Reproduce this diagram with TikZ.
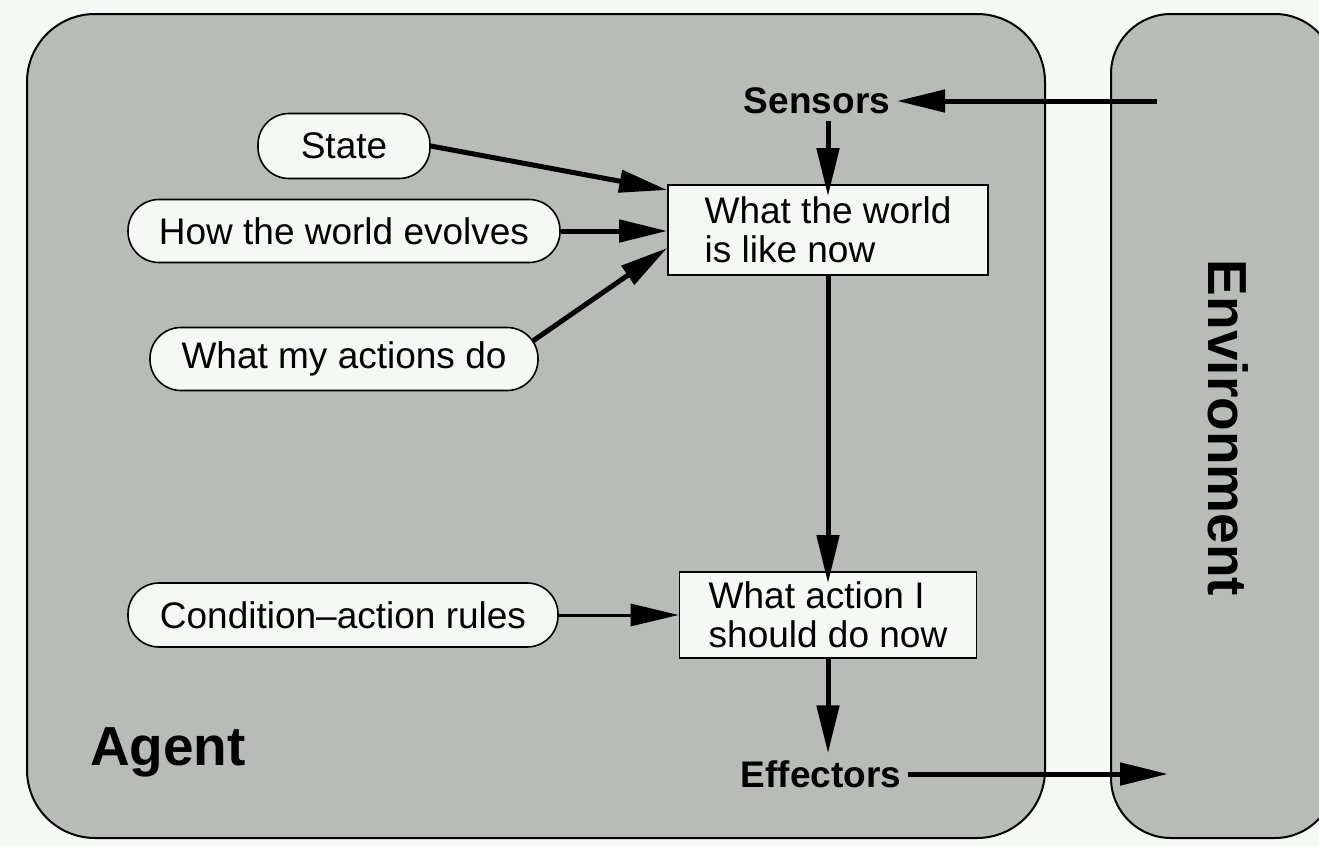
\documentclass[tikz,border=0pt]{standalone}
\usepackage{fontspec}
\setmainfont{Liberation Sans}
\usetikzlibrary{arrows.meta}
\definecolor{agentgray}{HTML}{B8BCB8}
\definecolor{paper}{HTML}{F5F9F6}

\begin{document}
\begin{tikzpicture}[x=0.5pt,y=-0.5pt,
  >={Triangle[length=24pt,width=11pt]},
  every node/.style={font=\fontsize{18.5}{19.5}\selectfont},
  box/.style={draw,fill=paper,line width=0.8pt,align=left,inner sep=0pt},
  oval/.style={draw,fill=paper,line width=0.8pt,rounded corners=15.5pt,
    minimum height=31.5pt,inner sep=0pt},
  port/.style={font=\fontsize{18.5}{19.5}\selectfont\bfseries},
  bigtext/.style={font=\fontsize{27.5}{30}\selectfont\bfseries}]
\useasboundingbox (0,0) rectangle (1319,846);
\fill[paper] (0,0) rectangle (1319,846);
% agent and environment
\draw[fill=agentgray,line width=1pt,rounded corners=34pt] (27,14) rectangle (1045,838);
\begin{scope}
\clip (0,0) rectangle (1319,846);
\draw[fill=agentgray,line width=1pt,rounded corners=30pt] (1111,14) rectangle (1335,838);
\end{scope}
\node[bigtext] (agent) at (168,752) {Agent};
\node[bigtext,rotate=-90] (env) at (1228,428) {Environment};
% inner parts
\node[oval,minimum width=86pt,minimum height=32.5pt] (state) at (344,146) {State};
\node[oval,minimum width=216pt] (evolves) at (344,231) {How the world evolves};
\node[oval,minimum width=194pt] (actions) at (344,359) {What my actions do};
\node[oval,minimum width=215pt,minimum height=32pt] (rules) at (343,615) {Condition--action rules};
\node[box,minimum width=160pt,minimum height=45pt] (world) at (828,230) {What the world\\is like now};
\node[box,minimum width=148.5pt,minimum height=43pt] (action) at (828,615) {What action I\\should do now};
\node[port] (sensors) at (817,101) {Sensors};
\node[port] (effectors) at (821,774) {Effectors};
\coordinate (envin) at (1157,101);
\coordinate (envout) at (1168,774);
% arrows
\begin{scope}[line width=2.5pt]
\draw[->] (envin) -- (sensors);
\draw[->,shorten >=-6pt] (world.north |- sensors.south) -- (world.north);
\draw[->] (state.east) -- ([yshift=20pt]world.west);
\draw[->] (evolves.east) -- (evolves.east -| world.west);
\draw[->] ([xshift=-3pt,yshift=9pt]actions.east) -- ([yshift=-9pt]world.west);
\draw[->,shorten >=-6pt] (world) -- (action);
\draw[->,line width=1.5pt] (rules) -- (action);
\draw[->] (action) -- (action.south |- effectors.north);
\draw[->] (effectors) -- (envout);
\end{scope}
\end{tikzpicture}
\end{document}
